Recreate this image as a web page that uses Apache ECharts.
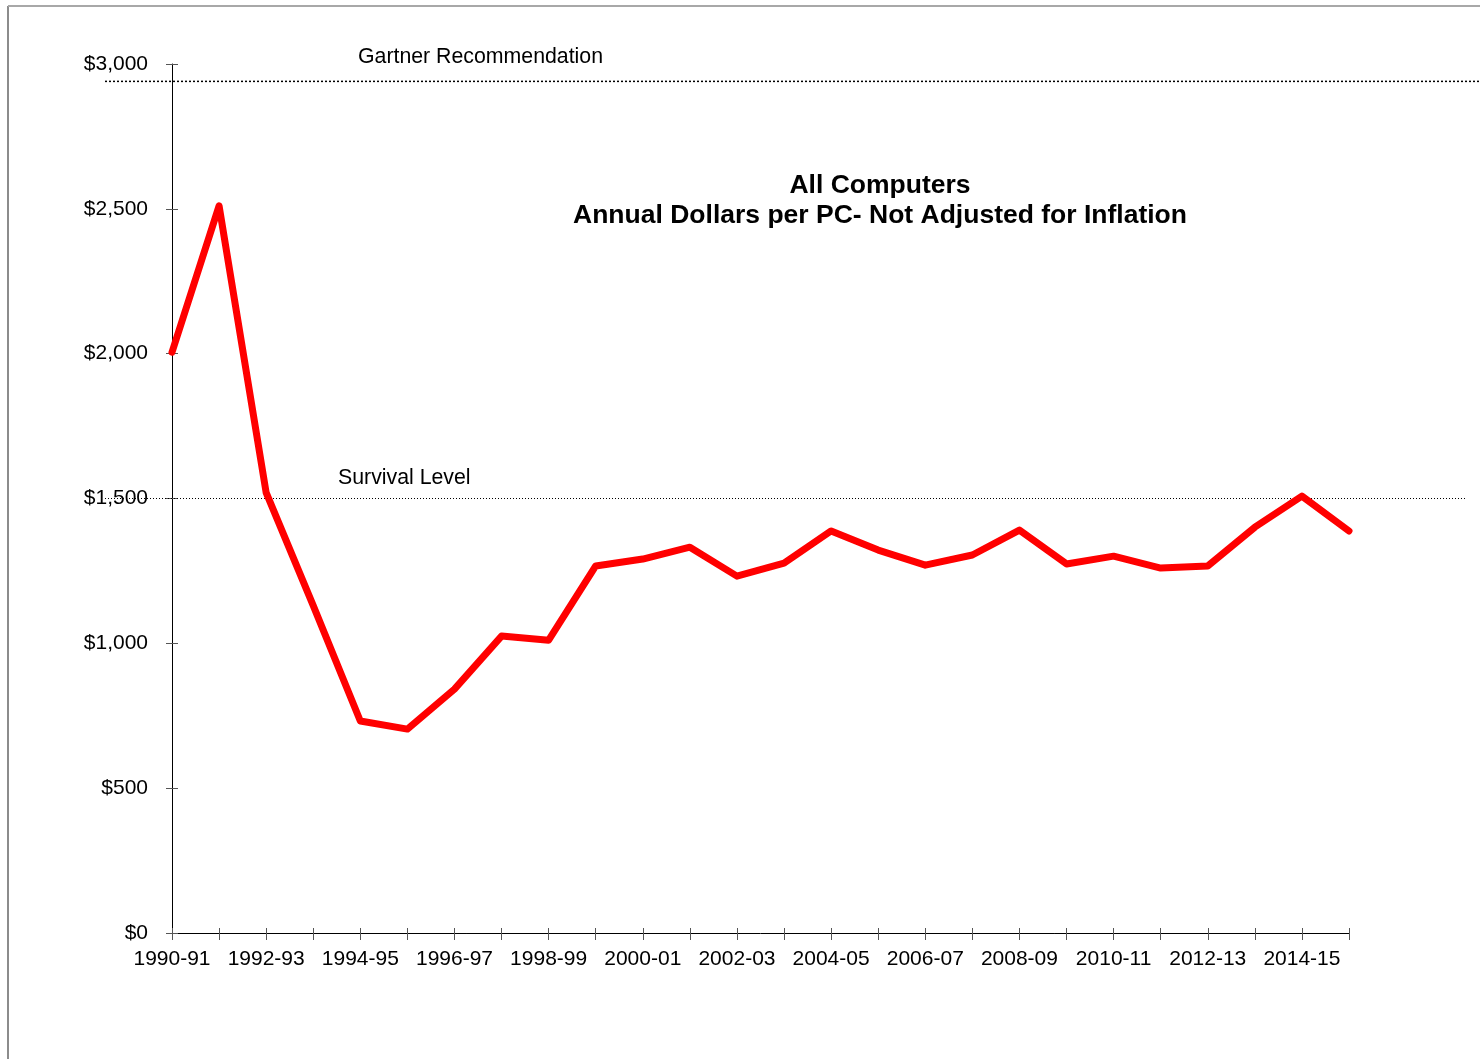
<!DOCTYPE html>
<html>
<head>
<meta charset="utf-8">
<script src="https://cdn.jsdelivr.net/npm/echarts@6/dist/echarts.min.js"></script>
<style>
html,body{margin:0;padding:0;background:#fff;}
#chart{width:1480px;height:1059px;}
</style>
</head>
<body>
<div id="chart"></div>
<script>
const categories = ['1990-91','1991-92','1992-93','1993-94','1994-95','1995-96','1996-97','1997-98','1998-99','1999-00','2000-01','2001-02','2002-03','2003-04','2004-05','2005-06','2006-07','2007-08','2008-09','2009-10','2010-11','2011-12','2012-13','2013-14','2014-15','2015-16'];
const dollarsPerPC = [2005,2510,1520,1130,732,704,842,1025,1011,1267,1291,1332,1232,1277,1388,1322,1270,1305,1391,1274,1301,1260,1267,1401,1508,1388];
const gartnerLevel = 2940;
const survivalLevel = 1500;
const yTicks = [0,500,1000,1500,2000,2500,3000];
const titleLines = ['All Computers','Annual Dollars per PC- Not Adjusted for Inflation'];

const FONT = '"Liberation Sans", Arial, sans-serif';
const chart = echarts.init(document.getElementById('chart'), null, {renderer:'canvas'});

const hiddenY = (gi) => ({type:'value', gridIndex:gi, min:yTicks[0], max:yTicks[yTicks.length-1], show:false});
const hiddenX = (gi) => ({type:'value', gridIndex:gi, min:0, max:1, show:false});

chart.setOption({
  backgroundColor:'#fff',
  animation:false,
  title:{
    text: titleLines.join('\n'),
    left: 875, top: 166, textAlign:'center',
    textStyle:{fontFamily:FONT, fontSize:26.5, fontWeight:'bold', color:'#000', lineHeight:30}
  },
  grid:[
    {left:172, right:131, top:64, bottom:126},
    {left:105, right:0, top:64, bottom:126},
    {left:105, right:15, top:64, bottom:126}
  ],
  xAxis:[
    {type:'category', gridIndex:0, data:categories, boundaryGap:false,
     axisLine:{lineStyle:{color:'#000', width:1}},
     axisTick:{show:true, interval:0, length:7, lineStyle:{color:'#555'}},
     axisLabel:{interval:1, margin:16, fontFamily:FONT, fontSize:21, color:'#000'},
     splitLine:{show:false}},
    {type:'category', gridIndex:0, data:categories, boundaryGap:false, position:'bottom',
     axisLine:{show:false},
     axisTick:{show:true, inside:true, interval:0, length:5, lineStyle:{color:'#555'}},
     axisLabel:{show:false}, splitLine:{show:false}},
    hiddenX(1), hiddenX(2)
  ],
  yAxis:[
    {type:'value', gridIndex:0, min:0, max:3000, interval:500,
     axisLine:{show:true, lineStyle:{color:'#000', width:1}},
     axisTick:{show:true, length:6, lineStyle:{color:'#555'}},
     axisLabel:{margin:24, fontFamily:FONT, fontSize:21, color:'#000',
       formatter:(v)=>'$'+v.toLocaleString('en-US')},
     splitLine:{show:false}},
    {type:'value', gridIndex:0, min:0, max:3000, interval:500, position:'left',
     axisLine:{show:false},
     axisTick:{show:true, inside:true, length:6, lineStyle:{color:'#555'}},
     axisLabel:{show:false}, splitLine:{show:false}},
    hiddenY(1), hiddenY(2)
  ],
  series:[
    {type:'line', xAxisIndex:2, yAxisIndex:2, data:[[0,gartnerLevel],[1,gartnerLevel]],
     symbol:'none', silent:true, lineStyle:{color:'#000', width:1.5, type:[2,2]}, z:1},
    {type:'line', xAxisIndex:3, yAxisIndex:3, data:[[0,survivalLevel],[1,survivalLevel]],
     symbol:'none', silent:true, lineStyle:{color:'#000', width:1, type:[1,2]}, z:1},
    {type:'line', xAxisIndex:0, yAxisIndex:0, data:dollarsPerPC, symbol:'none',
     lineStyle:{color:'#ff0000', width:7, join:'round', cap:'round'}, z:3}
  ],
  graphic:[
    {type:'line', shape:{x1:8, y1:6, x2:8, y2:1059}, style:{stroke:'#8c8c8c', lineWidth:2}, silent:true},
    {type:'line', shape:{x1:8, y1:6, x2:1480, y2:6}, style:{stroke:'#a8a8a8', lineWidth:2}, silent:true},
    {type:'text', left:358, top:47, style:{text:'Gartner Recommendation', font:'21.3px '+FONT, fill:'#000'}},
    {type:'text', left:338, top:468, style:{text:'Survival Level', font:'21.3px '+FONT, fill:'#000'}}
  ]
});
</script>
</body>
</html>
